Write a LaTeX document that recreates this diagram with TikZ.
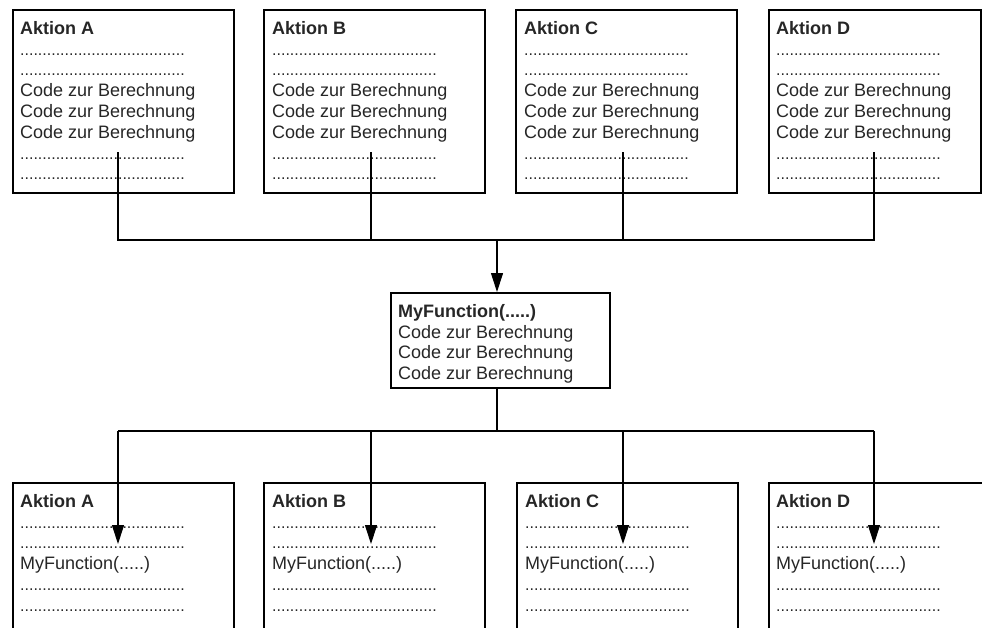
\documentclass[tikz,border=0pt]{standalone}
\usepackage{fontspec}
\setmainfont{Liberation Sans}
\usetikzlibrary{arrows.meta,positioning,calc}
\tikzset{>={Triangle[width=12pt,length=19pt]}}
% a row of dots as a placeholder line
\newcommand{\dotrow}{{\fontsize{16}{16}\selectfont .....................................}}

\begin{document}
\begin{tikzpicture}[x=1pt,y=-1pt]
  \tikzstyle{every node}=[font=\fontsize{18}{20.8}\selectfont]
  \tikzstyle{action}=[draw=black, line width=1.5pt, minimum width=221pt, minimum height=183pt, anchor=north west, inner sep=0pt]
  \tikzstyle{body}=[anchor=north west, align=left, inner sep=0pt, text=black!85]
  \tikzstyle{link}=[draw=black, line width=1.1pt]

  \useasboundingbox (0,0) rectangle (982,627);

  % upper row
  \node[action](a1) at (12,9) {};
  \node[action](a2) at (263,9) {};
  \node[action](a3) at (515,9) {};
  \node[action, minimum width=212pt](a4) at (768,9) {};
  \node[body](t1) at ($(a1.north west)+(8,12)$) {\textbf{Aktion A}\\ \dotrow\\ \dotrow\\ Code zur Berechnung\\ Code zur Berechnung\\ Code zur Berechnung\\ \dotrow\\ \dotrow};
  \node[body](t2) at ($(a2.north west)+(9,12)$) {\textbf{Aktion B}\\ \dotrow\\ \dotrow\\ Code zur Berechnung\\ Code zur Berechnung\\ Code zur Berechnung\\ \dotrow\\ \dotrow};
  \node[body](t3) at ($(a3.north west)+(9,12)$) {\textbf{Aktion C}\\ \dotrow\\ \dotrow\\ Code zur Berechnung\\ Code zur Berechnung\\ Code zur Berechnung\\ \dotrow\\ \dotrow};
  \node[body](t4) at ($(a4.north west)+(8,12)$) {\textbf{Aktion D}\\ \dotrow\\ \dotrow\\ Code zur Berechnung\\ Code zur Berechnung\\ Code zur Berechnung\\ \dotrow\\ \dotrow};

  % shared function
  \node[action, minimum width=219pt, minimum height=95pt](fn) at (390,292) {};
  \node[body](tf) at ($(fn.north west)+(8,12)$) {\textbf{MyFunction(.....)}\\ Code zur Berechnung\\ Code zur Berechnung\\ Code zur Berechnung};

  % lower row
  \node[action](b1) at (12,482) {};
  \node[action](b2) at (263,482) {};
  \node[action](b3) at (516,482) {};
  \node[action](b4) at (768,482) {};
  \node[body](u1) at ($(b1.north west)+(8,12)$) {\textbf{Aktion A}\\ \dotrow\\ \dotrow\\ MyFunction(.....)\\ \dotrow\\ \dotrow};
  \node[body](u2) at ($(b2.north west)+(9,12)$) {\textbf{Aktion B}\\ \dotrow\\ \dotrow\\ MyFunction(.....)\\ \dotrow\\ \dotrow};
  \node[body](u3) at ($(b3.north west)+(9,12)$) {\textbf{Aktion C}\\ \dotrow\\ \dotrow\\ MyFunction(.....)\\ \dotrow\\ \dotrow};
  \node[body](u4) at ($(b4.north west)+(8,12)$) {\textbf{Aktion D}\\ \dotrow\\ \dotrow\\ MyFunction(.....)\\ \dotrow\\ \dotrow};

  % connector ends
  \coordinate (s1) at (118,152);
  \coordinate (s2) at (371,152);
  \coordinate (s3) at (623,152);
  \coordinate (s4) at (874,152);
  \coordinate (bus) at (497,240);
  \coordinate (bus2) at (497,431);
  \coordinate (e1) at (118,544);
  \coordinate (e2) at (371,544);
  \coordinate (e3) at (623,544);
  \coordinate (e4) at (874,544);

  \draw [link] (s1) |- (bus) -| (s4);
  \draw [link] (s2) -- (s2 |- bus);
  \draw [link] (s3) -- (s3 |- bus);
  \draw [link,->] (bus) -- (bus |- fn.north);

  \draw [link] (bus2 |- fn.south) -- (bus2);
  \draw [link] (e1 |- bus2) -- (e4 |- bus2);
  \draw [link,->] (e1 |- bus2) -- (e1);
  \draw [link,->] (e2 |- bus2) -- (e2);
  \draw [link,->] (e3 |- bus2) -- (e3);
  \draw [link,->] (e4 |- bus2) -- (e4);

\end{tikzpicture}
\end{document}
